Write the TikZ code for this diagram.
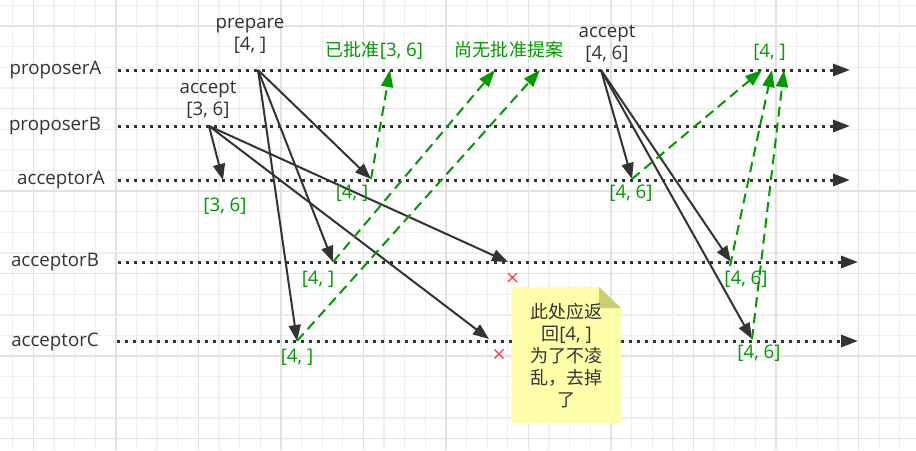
\documentclass[tikz,border=0pt]{standalone}
\usepackage{fontspec}
\setmainfont{Open Sans}
\newfontfamily\cjk[Scale=0.963]{Noto Sans CJK SC}
\usetikzlibrary{arrows.meta}
\definecolor{txtgray}{HTML}{333333}
\definecolor{okgreen}{HTML}{009900}
\definecolor{notefill}{HTML}{FFFFA9}
\definecolor{notefold}{HTML}{CBCB78}
\definecolor{crossred}{HTML}{FF3838}
\definecolor{gridminor}{HTML}{EFEFEF}
\definecolor{gridmajor}{HTML}{E2E2E2}
\tikzset{
	lifeline/.style={txtgray, line width=3pt, dash pattern=on 3pt off 5pt, -{Triangle[length=17pt,width=12pt]}},
	msg/.style={txtgray, line width=2pt, -{Triangle[length=16pt,width=12pt]}},
	reply/.style={okgreen, line width=2pt, dash pattern=on 10pt off 6pt, -{Triangle[length=17pt,width=12pt]}},
	lbl/.style={txtgray, font=\fontsize{18.7}{22}\selectfont, align=center, inner sep=0pt},
	ans/.style={okgreen, font=\fontsize{18.7}{22}\selectfont, align=center, inner sep=0pt}
}
\begin{document}
\begin{tikzpicture}[x=1pt, y=-1pt]
	\useasboundingbox (0,0) rectangle (916,450);
	\fill[white] (0,0) rectangle (916,450);
	% grid
	\foreach \i in {0,...,43} \draw[gridminor, line width=1.3pt] (12.7+20.63*\i,0) -- ++(0,450);
	\foreach \j in {0,...,21} \draw[gridminor, line width=1.3pt] (0,5.4+20.63*\j) -- ++(916,0);
	\foreach \i in {1,5,...,41} \draw[gridmajor, line width=1.3pt] (12.7+20.63*\i,0) -- ++(0,450);
	\foreach \j in {1,5,...,21} \draw[gridmajor, line width=1.3pt] (0,5.4+20.63*\j) -- ++(916,0);

	% lifelines
	\node[lbl] (pA) at (55.5,70) {proposerA};
	\node[lbl] (pB) at (55,126) {proposerB};
	\node[lbl] (aA) at (61,180) {acceptorA};
	\node[lbl] (aB) at (55,262) {acceptorB};
	\node[lbl] (aC) at (55,342) {acceptorC};
	\coordinate (pAs) at (118,70);  \coordinate (pAe) at (850,70);
	\coordinate (pBs) at (118,126); \coordinate (pBe) at (850,126);
	\coordinate (aAs) at (118,180); \coordinate (aAe) at (850,180);
	\coordinate (aBs) at (118,262); \coordinate (aBe) at (858,262);
	\coordinate (aCs) at (117,341); \coordinate (aCe) at (858,341);
	\foreach \l in {pA,pB,aA,aB,aC} \draw[lifeline] (\l s) -- (\l e);

	% message points
	\coordinate (prep) at (258,70);
	\coordinate (acc1) at (209,126);
	\coordinate (acc2) at (601,70);
	\coordinate (aA0) at (223,180);
	\coordinate (aB0) at (508,262);
	\coordinate (aC0) at (489,339);
	\coordinate (aA1) at (371,179);
	\coordinate (aB1) at (333,262);
	\coordinate (aC1) at (297,341);
	\coordinate (aA2) at (632,179);
	\coordinate (aB2) at (731,262);
	\coordinate (aC2) at (752,339);
	\coordinate (rB2) at (730,266);
	\coordinate (gA1) at (390,70);
	\coordinate (gB1) at (495,70);
	\coordinate (gC1) at (540,70);
	\coordinate (gA2) at (762,70);
	\coordinate (gB2) at (772,70);
	\coordinate (gC2) at (784,70);

	\node[lbl] (prepL) at (250,36) {prepare\\{}[4, ]};
	\node[lbl] (acc1L) at (208,100) {accept\\{}[3, 6]};
	\node[lbl] (acc2L) at (607,44) {accept\\{}[4, 6]};

	\draw[msg] (acc1) -- (aA0);
	\draw[msg] (acc1) -- (aB0);
	\draw[msg] (acc1) -- (aC0);
	\draw[msg] (prep) -- (aA1);
	\draw[msg] (prep) -- (aB1);
	\draw[msg] (prep) -- (aC1);
	\draw[msg] (acc2) -- (aA2);
	\draw[msg] (acc2) -- (aB2);
	\draw[msg] (acc2) -- (aC2);

	\draw[reply] (aA1) -- (gA1);
	\draw[reply] (aB1) -- (gB1);
	\draw[reply] (aC1) -- (gC1);
	\draw[reply] (aA2) -- (gA2);
	\draw[reply] (rB2) -- (gB2);
	\draw[reply] (aC2) -- (gC2);

	\node[ans] (r0) at (225,206) {[3, 6]};
	\node[ans] (r1) at (352,193) {[4, ]};
	\node[ans] (r2) at (318,279) {[4, ]};
	\node[ans] (r3) at (297,357) {[4, ]};
	\node[ans] (r4) at (631,193) {[4, 6]};
	\node[ans] (r5) at (746,279) {[4, 6]};
	\node[ans] (r6) at (759,353) {[4, 6]};
	\node[ans] (ok1) at (374.5,50) {{\cjk 已批准}[3, 6]};
	\node[ans] (ok2) at (509,50) {\cjk 尚无批准提案};
	\node[ans] (ok3) at (769.5,52) {[4, ]};

	% lost replies
	\coordinate (x1) at (512.5,277.5);
	\coordinate (x2) at (499,354);
	\foreach \c in {x1,x2}
		\draw[crossred, line width=1.3pt] (\c) ++(-4.5,-4.5) -- ++(9,9) ++(0,-9) -- ++(-9,9);

	% note
	\fill[notefill] (512,287) -- (599,287) -- (621,308) -- (621,423) -- (512,423) -- cycle;
	\fill[notefold] (599,287) -- (599,308) -- (621,308) -- cycle;
	\node[lbl] (note) at (566.5,356) {{\cjk 此处应返}\\{\cjk 回}[4, ]\\{\cjk 为了不凌}\\{\cjk 乱，去掉}\\{\cjk 了}};
\end{tikzpicture}
\end{document}
